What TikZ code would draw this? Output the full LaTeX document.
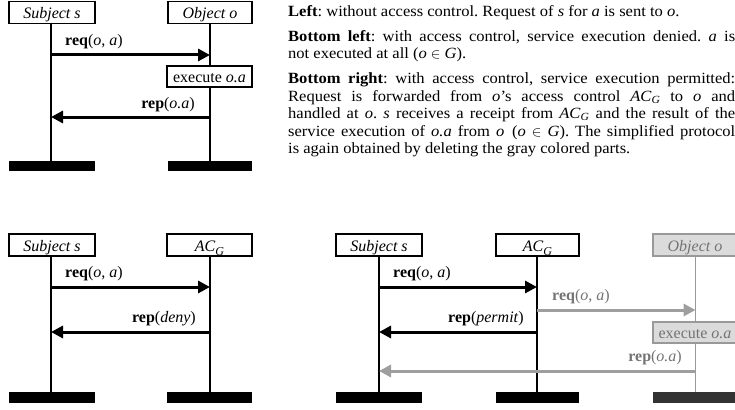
\documentclass[tikz,border=0pt]{standalone}
\usepackage{fontspec}
\setmainfont{Liberation Serif}
\newfontfamily\parafont[FakeStretch=1.06,Ligatures=TeX]{Liberation Serif}
\usetikzlibrary{arrows.meta}
% AC with subscript G, as used in the running text
\newcommand{\acsub}{\textit{AC}\textsubscript{\textit{G}}}
% AC with a larger, lower subscript G, as used in the lifeline heads
\newcommand{\acbox}{\textit{AC}\raisebox{-4.5pt}{\fontsize{12}{12}\selectfont\textit{G}}}
% caption font: slightly widened serif, loose tolerance for justified lines
\newcommand{\parasetup}{\parafont\fontsize{15.6}{17.5}\selectfont\frenchspacing\tolerance=10000\relax}
\begin{document}
\begin{tikzpicture}[x=1pt,y=-1pt,
  lblfont/.style={font=\fontsize{16}{18}\selectfont},
  actor/.style={lblfont, draw=black, line width=1.2pt, fill=white,
    minimum width=86pt, minimum height=22pt, inner sep=0pt,
    text height=13pt, text depth=1pt},
  gactor/.style={actor, draw=black!40, fill=black!14, text=black!55},
  bar/.style={fill=black, draw=none, minimum width=86pt, minimum height=10.5pt, inner sep=0pt},
  gbar/.style={bar, fill=black!80},
  life/.style={line width=1.3pt, draw=black},
  glife/.style={life, draw=black!40},
  msg/.style={line width=3pt, draw=black, -{Triangle[length=12pt,width=12pt]}},
  gmsg/.style={msg, draw=black!38, -{Triangle[length=12pt,width=12pt,fill=black!38]}},
  lbl/.style={lblfont, inner sep=0pt},
  glbl/.style={lbl, text=black!55},
  para/.style={font=\parasetup, text width=447pt, align=justify, inner sep=0pt}
]
\useasboundingbox (0,0) rectangle (735,409);

% ---------- top left: no access control ----------
\coordinate (sx1) at (51,0);
\coordinate (ox1) at (210,0);
\draw[life] (51,24) -- (51,161);
\draw[life] (210,24) -- (210,161);
\node[actor] (s1) at (52,12.5) {\textit{Subject s}};
\node[actor, minimum width=84pt] (o1) at (210,12.5) {\textit{Object o}};
\node[actor, minimum width=85pt, minimum height=21pt] (x1) at (209.5,76.5) {execute \textit{o.a}};
\node[bar] (b1s) at (52,166) {};
\node[bar, minimum width=84pt] (b1o) at (210,166) {};
\draw[msg] (sx1 |- 0,55) -- (ox1 |- 0,55);
\node[lbl, anchor=base west] (m1a) at (65,46) {\textbf{req}(\textit{o}, \textit{a})};
\draw[msg] (ox1 |- 0,117) -- (sx1 |- 0,117);
\node[lbl, anchor=base east] (m1b) at (195,108) {\textbf{rep}(\textit{o.a})};

% ---------- bottom left: access denied ----------
\coordinate (sx2) at (51,0);
\coordinate (ax2) at (210,0);
\draw[life] (51,256) -- (51,392);
\draw[life] (210,256) -- (210,392);
\node[actor] (s2) at (52,245) {\textit{Subject s}};
\node[actor, minimum width=85pt] (ac2) at (209.5,245) {\acbox};
\node[bar] (b2s) at (52,397.5) {};
\node[bar, minimum width=85pt] (b2a) at (209.5,397.5) {};
\draw[msg] (sx2 |- 0,287) -- (ax2 |- 0,287);
\node[lbl, anchor=base west] (m2a) at (65,277.5) {\textbf{req}(\textit{o}, \textit{a})};
\draw[msg] (ax2 |- 0,332) -- (sx2 |- 0,332);
\node[lbl, anchor=base east] (m2b) at (196,322.5) {\textbf{rep}(\textit{deny})};

% ---------- bottom right: access permitted ----------
\coordinate (sx3) at (379,0);
\coordinate (ax3) at (537,0);
\coordinate (ox3) at (695.5,0);
\draw[life] (379,256) -- (379,392);
\draw[life] (537,256) -- (537,392);
\draw[glife] (695.5,256) -- (695.5,392);
\node[actor] (s3) at (379,245) {\textit{Subject s}};
\node[actor, minimum width=83pt] (ac3) at (537.5,245) {\acbox};
\node[gactor, minimum width=84pt] (o3) at (695,245) {\textit{Object o}};
\node[gactor, minimum width=84pt, minimum height=21pt] (x3) at (695,332.5) {execute \textit{o.a}};
\node[bar] (b3s) at (379,397.5) {};
\node[bar, minimum width=83pt] (b3a) at (537.5,397.5) {};
\node[gbar, minimum width=84pt] (b3o) at (695,397.5) {};
\draw[msg] (sx3 |- 0,287) -- (ax3 |- 0,287);
\node[lbl, anchor=base west] (m3a) at (393,277.5) {\textbf{req}(\textit{o}, \textit{a})};
\draw[gmsg] (ax3 |- 0,310) -- (ox3 |- 0,310);
\node[glbl, anchor=base west] (m3b) at (552,300.5) {\textbf{req}(\textit{o}, \textit{a})};
\draw[msg] (ax3 |- 0,332) -- (sx3 |- 0,332);
\node[lbl, anchor=base east] (m3c) at (524,322.5) {\textbf{rep}(\textit{permit})};
\draw[gmsg] (ox3 |- 0,371) -- (sx3 |- 0,371);
\node[glbl, anchor=base east] (m3d) at (682,361.5) {\textbf{rep}(\textit{o.a})};

% ---------- caption text ----------
\node[para, anchor=north west] (txt) at (288,5) {%
\textbf{Left}: without access control. Request of \textit{s} for \textit{a} is sent to \textit{o}.\par
\vspace{7.5pt}
\textbf{Bottom left}: with access control, service execution denied. \textit{a} is\linebreak
not executed at all (\textit{o} $\in$ \textit{G}).\par
\vspace{7.5pt}
\textbf{Bottom right}: with access control, service execution permitted:\linebreak
Request is forwarded from \textit{o}’s access control \acsub{} to \textit{o} and\linebreak
handled at \textit{o}. \textit{s} receives a receipt from \acsub{} and the result of the\linebreak
service execution of \textit{o.a} from \textit{o}\enspace(\textit{o} $\in$ \textit{G}). The simplified protocol\linebreak
is again obtained by deleting the gray colored parts.\par};
\end{tikzpicture}
\end{document}
